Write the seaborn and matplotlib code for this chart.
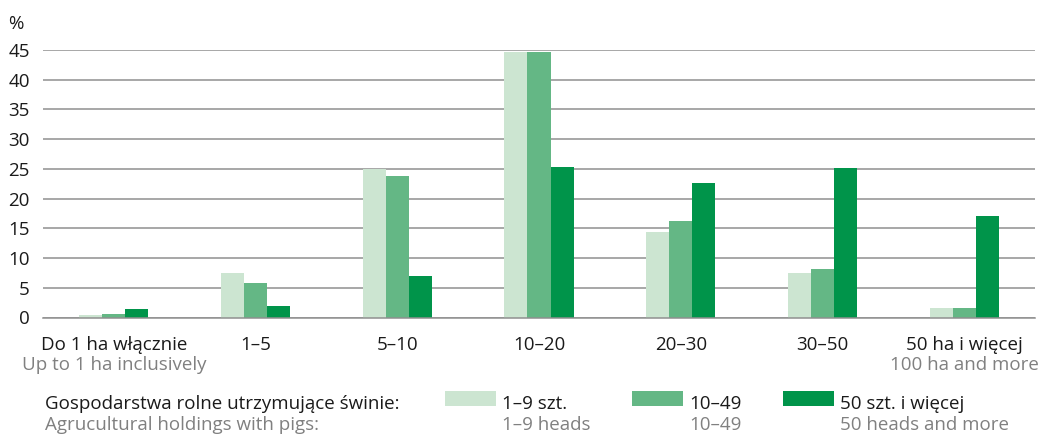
import matplotlib
matplotlib.use('Agg')
import matplotlib.pyplot as plt
import matplotlib.transforms as mtransforms
from matplotlib.patches import Rectangle
import numpy as np
import pandas as pd
import seaborn as sns

# Data
categories = ['Do 1 ha włącznie', '1–5', '5–10', '10–20', '20–30', '30–50', '50 ha i więcej']
groups = ['1–9 szt.', '10–49', '50 szt. i więcej']
small_herd = [0.4, 7.5, 24.9, 44.6, 14.4, 7.5, 1.6]
mid_herd = [0.65, 5.8, 23.8, 44.6, 16.2, 8.2, 1.6]
large_herd = [1.4, 1.9, 7.0, 25.3, 22.6, 25.2, 17.1]
yticks = list(range(0, 50, 5))
colors = ['#cce5d1', '#64b785', '#00944a']

df = pd.DataFrame({
    'area': categories * 3,
    'herd': [g for g in groups for _ in categories],
    'value': small_herd + mid_herd + large_herd,
})

sns.set_style('white')
plt.rcParams['font.family'] = ['Open Sans', 'DejaVu Sans']
FS = 13.5

W, H = 1040, 437
fig = plt.figure(figsize=(W / 100, H / 100), dpi=100)
ax = fig.add_axes([43 / W, 1 - 317.5 / H, (1035 - 43) / W, (317.5 - 50) / H])

sns.barplot(data=df, x='area', y='value', hue='herd', order=categories,
            hue_order=groups, palette=colors, saturation=1, width=0.487,
            gap=0, linewidth=0, legend=False, ax=ax)

grid_col = '#8f8f8f'
ax.set_xlim(-0.5, 6.5)
ax.set_ylim(0, 45)
ax.set_yticks(yticks)
ax.yaxis.grid(True, color=grid_col, lw=1.1)
ax.set_axisbelow(True)
for s in ['top', 'right', 'left']:
    ax.spines[s].set_visible(False)
ax.spines['bottom'].set_color(grid_col)
ax.spines['bottom'].set_linewidth(1.1)
ax.set_xlabel('')
ax.set_ylabel('')

txt = '#1a1a1a'
grey = '#808080'
ax.tick_params(axis='y', length=0, pad=9.4, labelsize=FS, labelcolor=txt)
ax.set_xticks(range(len(categories)))
ax.set_xticklabels(categories)
ax.tick_params(axis='x', which='major', length=0, pad=13, labelsize=FS, labelcolor=txt)
ax.set_xticks(np.arange(-0.5, len(categories), 1), minor=True)
ax.tick_params(axis='x', which='minor', length=5.5, width=1.1, color=grid_col)

# English sub-labels under first and last category
trans = mtransforms.blended_transform_factory(ax.transData, fig.transFigure)
ax.text(0, 1 - 370 / H, 'Up to 1 ha inclusively', transform=trans, ha='center',
        va='baseline', fontsize=FS, color=grey)
ax.text(6, 1 - 370 / H, '100 ha and more', transform=trans, ha='center',
        va='baseline', fontsize=FS, color=grey)

fig.text(8 / W, 1 - 29 / H, '%', fontsize=FS, color=txt, va='baseline')

# Legend
def fx(px):
    return px / W

def fy(py):
    return 1 - py / H

fig.text(fx(45), fy(409), 'Gospodarstwa rolne utrzymujące świnie:', fontsize=FS,
         color=txt, va='baseline')
fig.text(fx(45), fy(430), 'Agrucultural holdings with pigs:', fontsize=FS,
         color=grey, va='baseline')
legend_items = [
    (445, '1–9 szt.', '1–9 heads'),
    (632, '10–49', '10–49'),
    (783, '50 szt. i więcej', '50 heads and more'),
]
for (x0, pl, en), c in zip(legend_items, colors):
    fig.add_artist(Rectangle((fx(x0), fy(406)), 51 / W, 15 / H,
                             transform=fig.transFigure, color=c, lw=0))
    fig.text(fx(x0 + 57), fy(409), pl, fontsize=FS, color=txt, va='baseline')
    fig.text(fx(x0 + 57), fy(430), en, fontsize=FS, color=grey, va='baseline')

fig.savefig('out.png', dpi=100)
